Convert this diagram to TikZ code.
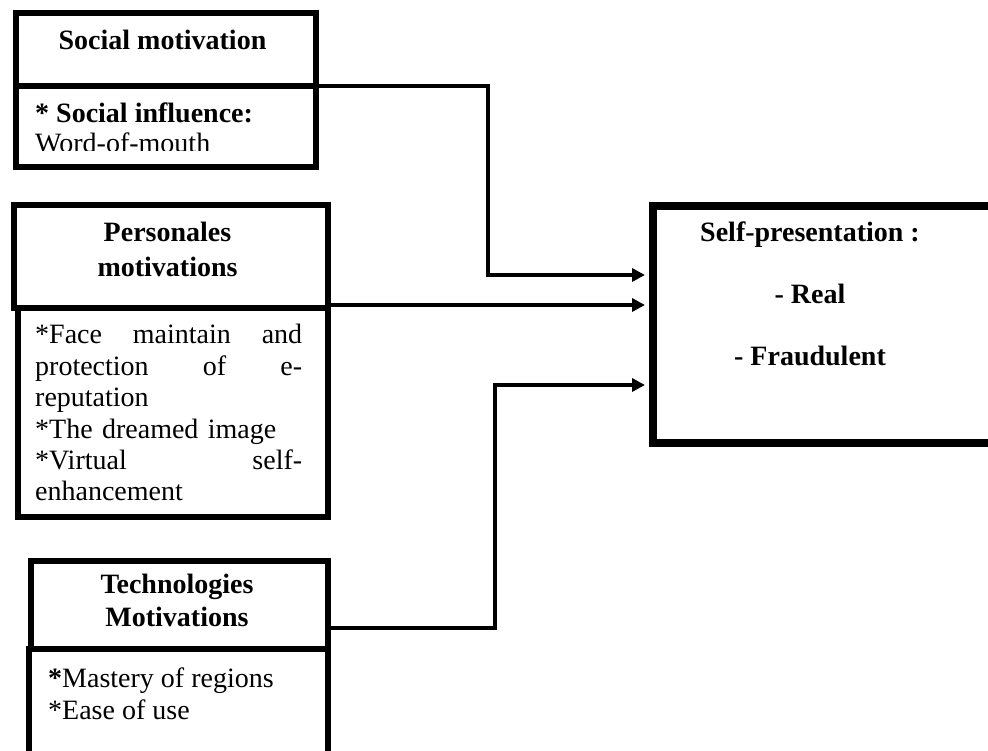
\documentclass[tikz,border=0pt]{standalone}
\usepackage{fontspec}
\setmainfont{Liberation Serif}
\usetikzlibrary{arrows.meta,positioning}

\begin{document}
\begin{tikzpicture}[x=1pt, y=-1pt,
	box/.style={draw, line width=6pt, rectangle, inner sep=0pt, anchor=north west},
	conn/.style={line width=4pt, -{Triangle[length=13pt,width=13pt]}, shorten >=4pt},
	ttl/.style={font=\bfseries\fontsize{28}{35}\selectfont, align=center, inner sep=0pt, anchor=base},
	txt/.style={font=\fontsize{28}{31.4}\selectfont, inner sep=0pt, anchor=base west, align=left}]
		%%%%% START %%%%%
		
		\useasboundingbox (0,0) rectangle (988,751);
		
		\node[box, minimum width=300pt, minimum height=72.5pt] (socHead) at (12.5, 10.5) {};
		\node[box, minimum width=300pt, minimum height=81.5pt] (socBody) at (12.5, 83) {};
		
		\node[box, minimum width=314pt, minimum height=103pt] (persHead) at (11, 202) {};
		\node[box, minimum width=310pt, minimum height=208.5pt] (persBody) at (15, 305) {};
		
		\node[box, minimum width=297pt, minimum height=88pt] (techHead) at (28, 558) {};
		\node[box, minimum width=299pt, minimum height=130pt] (techBody) at (26, 646) {};
		
		\node[box, line width=8pt, minimum width=360pt, minimum height=237pt] (self) at (649, 202) {};
		
		% align only: last baseline, text width: first baseline
		\node[ttl] (socTitle) at (162.5, 50) {Social motivation};
		\node[txt, font=\bfseries\fontsize{28}{31.4}\selectfont] (socInfl) at (35, 123) {* Social influence:};
		\begin{scope}
			\clip (20, 128) rectangle (305, 151);
			\node[txt] (socWord) at (35, 153) {Word-of-mouth};
		\end{scope}
		
		\node[ttl] (persTitle) at (167.5, 277) {Personales\\motivations};
		\node[txt, text width=267pt] (persText) at (35, 344) {*Face\hfill maintain\hfill and\\
			protection\hfill of\hfill e-\\
			reputation\\{}*The dreamed image\\{}*Virtual\hfill self-\\
			enhancement};
		
		\node[ttl, font=\bfseries\fontsize{28}{33}\selectfont] (techTitle) at (177, 626) {Technologies\\Motivations};
		\node[txt, font=\fontsize{28}{32}\selectfont] (techText) at (48, 719) {\textbf{*}Mastery of regions\\{}*Ease of use};
		
		\node[ttl, font=\bfseries\fontsize{28}{62}\selectfont] (selfText) at (810, 365) {Self-presentation :\\- Real\\- Fraudulent};
		
		\draw[conn] ([yshift=-3pt]socBody.north east) -| (488, 275) -- (self.west |- 488, 275);
		\draw[conn] (persBody.north east) -- (self.west |- persBody.north east);
		\draw[conn] ([yshift=18pt]techBody.north east) -| (495, 385) -- (self.west |- 495, 385);
		
		%%%%% END %%%%%
\end{tikzpicture}
\end{document}
